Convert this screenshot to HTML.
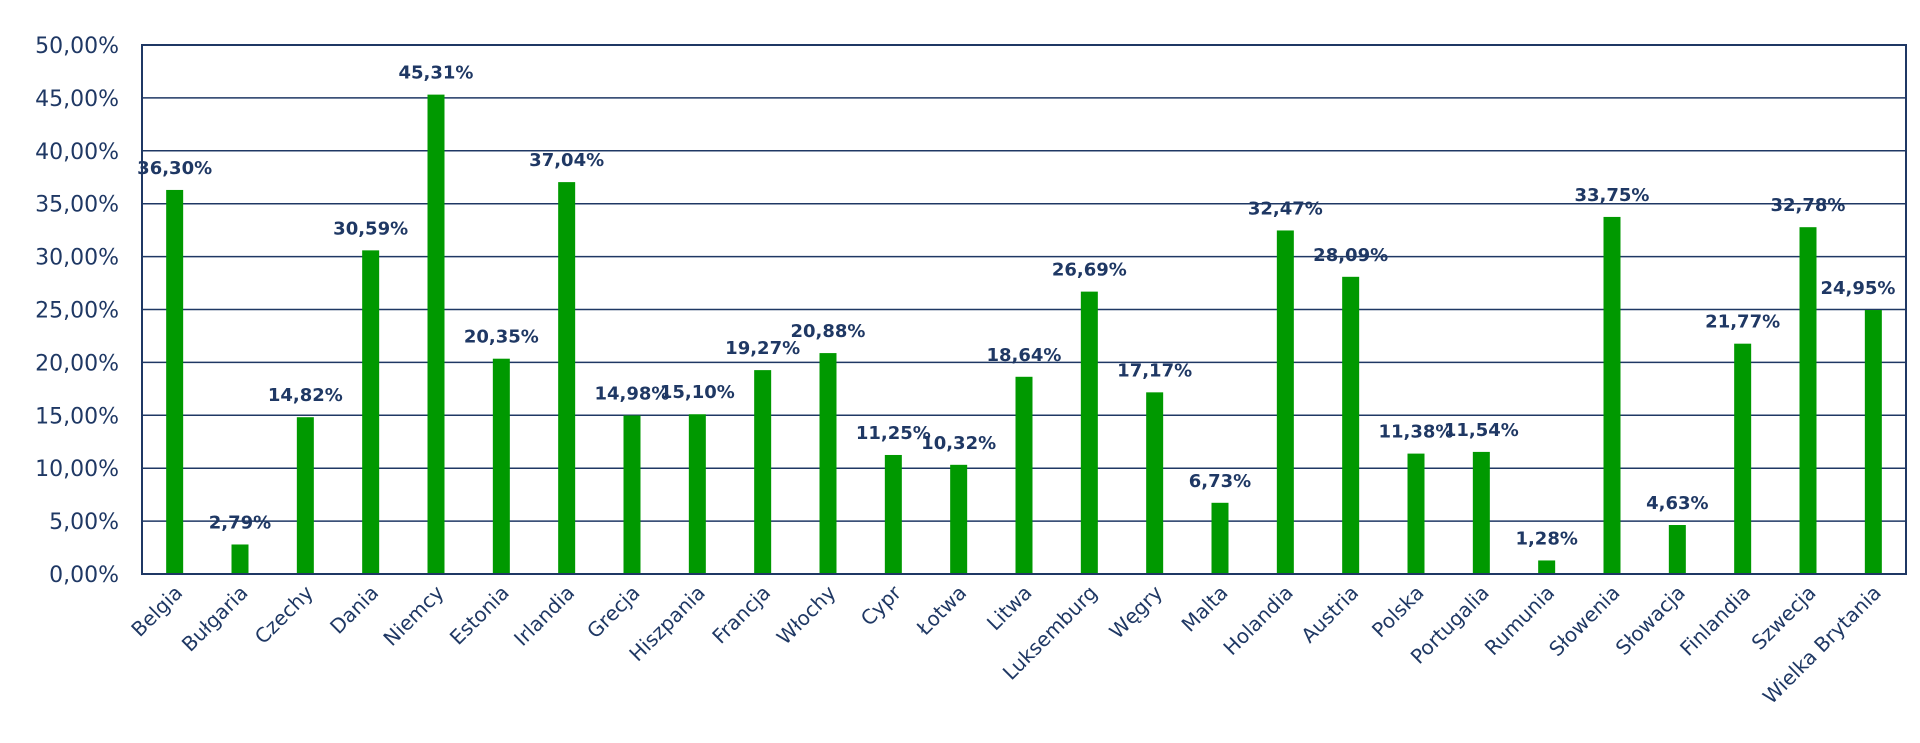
<!DOCTYPE html>
<html><head><meta charset="utf-8"><style>
html,body{margin:0;padding:0;background:#fff;}
svg{display:block;}
</style></head><body>
<svg id="chart" width="1920" height="743" xmlns="http://www.w3.org/2000/svg">
<g id="grid"></g>
<g id="yaxis"></g>
<g id="bars"></g>
<g id="vals"></g>
<g id="xaxis"></g>
<rect x="142" y="45" width="1764" height="529" fill="none" stroke="#1f3864" stroke-width="2"/>
</svg>
<script>
const categories = ["Belgia","Bułgaria","Czechy","Dania","Niemcy","Estonia","Irlandia","Grecja","Hiszpania","Francja","Włochy","Cypr","Łotwa","Litwa","Luksemburg","Węgry","Malta","Holandia","Austria","Polska","Portugalia","Rumunia","Słowenia","Słowacja","Finlandia","Szwecja","Wielka Brytania"];
const values = [36.30,2.79,14.82,30.59,45.31,20.35,37.04,14.98,15.10,19.27,20.88,11.25,10.32,18.64,26.69,17.17,6.73,32.47,28.09,11.38,11.54,1.28,33.75,4.63,21.77,32.78,24.95];
const yTicks = [0,5,10,15,20,25,30,35,40,45,50];
const NS="http://www.w3.org/2000/svg";
const L=142,R=1906,T=45,B=574,yMax=50;
const n=categories.length, band=(R-L)/n, bw=17;
function y(v){return B-(v/yMax)*(B-T);}
function xc(i){return L+band*(i+0.5);}
function fmt(v){return v.toFixed(2).replace('.',',')+'%';}
function mk(tag,attrs,parent,text){const e=document.createElementNS(NS,tag);for(const k in attrs)e.setAttribute(k,attrs[k]);if(text!==undefined)e.textContent=text;parent.appendChild(e);return e;}
const grid=document.getElementById('grid'),ya=document.getElementById('yaxis'),bars=document.getElementById('bars'),vals=document.getElementById('vals'),xa=document.getElementById('xaxis');
yTicks.forEach(t=>{
  const ln=mk('line',{x1:L,x2:R,y1:y(t),y2:y(t),stroke:'#1f3864','stroke-width':1.5},grid);
  
  
  const tx=mk('text',{x:119,y:y(t)+8,'text-anchor':'end','font-family':'DejaVu Sans, Verdana, sans-serif','font-size':22,fill:'#1f3864'},ya,fmt(t));
  
  
});
values.forEach((v,i)=>{
  const cx=xc(i);
  const r=mk('rect',{x:cx-bw/2,y:y(v),width:bw,height:B-y(v),fill:'#009900'},bars);
  
  
  let lx=Math.min(cx,R-48);
  const t=mk('text',{x:lx,y:y(v)-16,'text-anchor':'middle','font-family':'DejaVu Sans, Verdana, sans-serif','font-size':18,'font-weight':'bold',fill:'#1f3864'},vals,fmt(v));
  
  
  const c=mk('text',{x:0,y:0,'text-anchor':'end','font-family':'DejaVu Sans, Tahoma, sans-serif','font-size':20,fill:'#1f3864',transform:'translate('+(cx+9)+','+(594)+') rotate(-45)'},xa,categories[i]);
  
  
});
</script>
</body></html>
